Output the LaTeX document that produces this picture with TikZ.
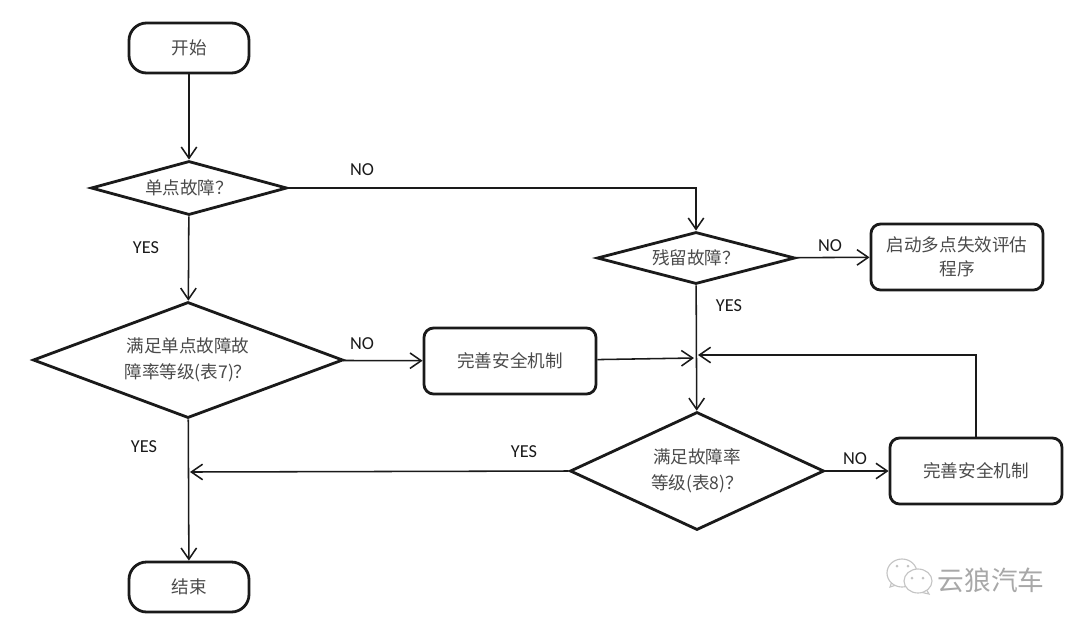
\documentclass[tikz,border=0pt]{standalone}
\usepackage{fontspec}
\setmainfont{Noto Sans CJK SC}
\newfontfamily\labelfont{Carlito}
\usetikzlibrary{shapes.geometric,arrows.meta}
\definecolor{inkline}{HTML}{1A1A1A}
\definecolor{inktext}{HTML}{4A4A4A}
\definecolor{markgray}{HTML}{A8A8A8}
\definecolor{bubblegray}{HTML}{C4C4C4}
\begin{document}
\begin{tikzpicture}[
    x=0.025cm, y=-0.025cm,
    term/.style={rectangle, rounded corners=0.44cm, draw=inkline, line width=2pt, minimum width=3.0cm, minimum height=1.25cm, font=\fontsize{12.5}{16}\selectfont, text=inktext, inner sep=0pt},
    proc/.style={rectangle, rounded corners=0.24cm, draw=inkline, line width=2pt, minimum width=4.3cm, minimum height=1.65cm, font=\fontsize{12.5}{17}\selectfont, text=inktext, align=center, inner sep=0pt},
    cond/.style={diamond, draw=inkline, line width=2pt, inner sep=0pt, font=\fontsize{12.5}{18.6}\selectfont, text=inktext, align=center},
    msg/.style={line width=1.1pt, draw=inkline, -{Straight Barb[length=8pt,width=11pt,line width=1.1pt]}},
    tag/.style={font=\labelfont\fontsize{13}{15}\selectfont, text=inkline},
    bubble/.style={draw=bubblegray, line width=0.8pt, fill=white},
  ]
    \useasboundingbox (0,0) rectangle (1080,627);

    % Left column
    \node[term] (start) at (189,48) {开始};
    \node[cond, aspect=3.6, minimum width=4.9cm, minimum height=1.35cm] (single) at (189,188) {单点故障？};
    \node[cond, aspect=2.68, minimum width=7.75cm, minimum height=2.9cm] (rate7) at (188,360) {满足单点故障故\\障率等级(表7)？};
    \node[term] (finish) at (189,587) {结束};
    \node[proc] (fixa) at (510,361) {完善安全机制};

    % Right column
    \node[cond, aspect=3.75, minimum width=4.95cm, minimum height=1.3cm] (residual) at (696,258) {残留故障？};
    \node[proc] (multi) at (957,257) {启动多点失效评估\\程序};
    \node[cond, aspect=2.16, minimum width=6.35cm, minimum height=2.95cm] (rate8) at (697,471) {满足故障率\\等级(表8)？};
    \node[proc] (fixb) at (976,471) {完善安全机制};

    % Junctions
    \coordinate (jointa) at (694,358);
    \coordinate (jointb) at (698,355);
    \coordinate (merge) at (190,472);

    % Connectors
    \draw[msg] (start) -- (single);
    \draw[msg] (single) -- (rate7);
    \draw[msg] (single.east) -| (residual.north);
    \draw[msg] (residual) -- (multi);
    \draw[msg] (residual) -- (rate8);
    \draw[msg] (rate7) -- (fixa);
    \draw[msg] (fixa) -- (jointa);
    \draw[msg] (fixb.north) |- (jointb);
    \draw[msg] (rate8) -- (fixb);
    \draw[msg] (rate8.west) -- (merge);
    \draw[msg] (rate7) -- (finish);

    % Labels
    \node[tag] (noa) at (362,170) {NO};
    \node[tag] (yesa) at (146,248) {YES};
    \node[tag] (nob) at (830,246) {NO};
    \node[tag] (yesb) at (729,306) {YES};
    \node[tag] (noc) at (362,344) {NO};
    \node[tag] (yesc) at (144,447) {YES};
    \node[tag] (yesd) at (524,452) {YES};
    \node[tag] (nod) at (855,459) {NO};

    % Watermark
    \draw[bubble] (892,581) -- (890,587) -- (899,584);
    \draw[bubble] (902,573) ellipse (15 and 14);
    \draw[bubble] (926,589) -- (929,594) -- (920,592);
    \draw[bubble] (918,581) ellipse (14 and 12);
    \fill[bubblegray] (897,566) circle (1.5) (908,566) circle (1.5) (912,578) circle (1.5) (923,578) circle (1.5);
    \node[font=\fontsize{19}{22}\selectfont, text=markgray] (mark) at (991,580) {云狼汽车};
  \end{tikzpicture}
\end{document}
